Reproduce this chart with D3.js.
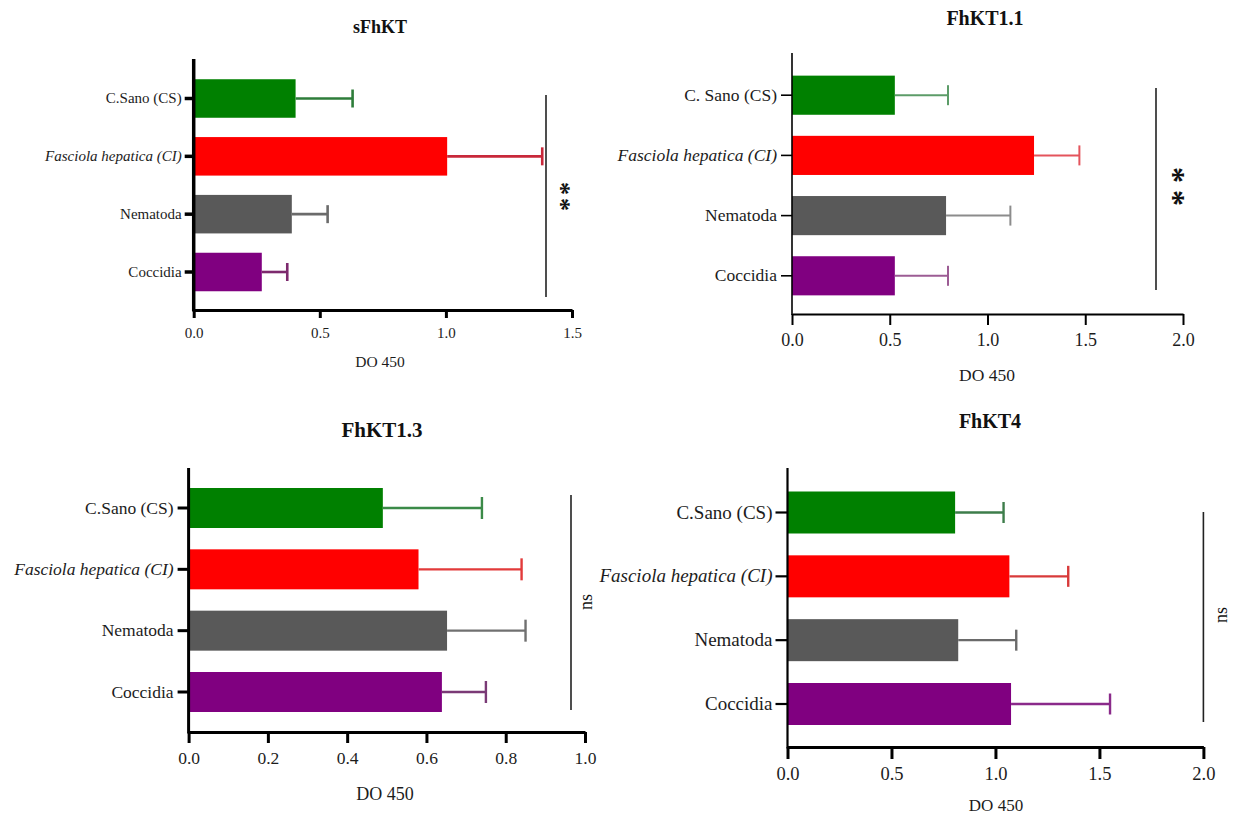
<!DOCTYPE html>
<html><head><meta charset="utf-8">
<script src="https://cdn.jsdelivr.net/npm/d3@7"></script>
<style>
html,body{margin:0;padding:0;background:#fff;}
svg{display:block;}
svg text{font-family:"Liberation Serif","Times New Roman",serif !important;}
</style></head><body>
<svg id="chart" width="1238" height="821"></svg>
<script>
// ---------- DATA ----------
const categories = ["C.Sano (CS)", "Fasciola hepatica (CI)", "Nematoda", "Coccidia"];
const categoriesFhKT11 = ["C. Sano (CS)", "Fasciola hepatica (CI)", "Nematoda", "Coccidia"];
const italicCategory = "Fasciola hepatica (CI)";
const panelTitles = ["sFhKT", "FhKT1.1", "FhKT1.3", "FhKT4"];
const axisTitle = "DO 450";
const sigLabels = ["**", "**", "ns", "ns"];

const sFhKT_means = [0.404, 1.005, 0.389, 0.270];
const sFhKT_sd    = [0.226, 0.377, 0.142, 0.101];
const FhKT11_means = [0.526, 1.238, 0.788, 0.526];
const FhKT11_sd    = [0.272, 0.232, 0.329, 0.272];
const FhKT13_means = [0.490, 0.580, 0.652, 0.639];
const FhKT13_sd    = [0.250, 0.260, 0.198, 0.111];
const FhKT4_means = [0.806, 1.067, 0.821, 1.075];
const FhKT4_sd    = [0.233, 0.283, 0.279, 0.476];

const ticks_sFhKT  = [0, 0.5, 1.0, 1.5];
const ticks_FhKT11 = [0, 0.5, 1.0, 1.5, 2.0];
const ticks_FhKT13 = [0, 0.2, 0.4, 0.6, 0.8, 1.0];
const ticks_FhKT4  = [0, 0.5, 1.0, 1.5, 2.0];

// ---------- STYLE / LAYOUT ----------
const barColors = ["#008000", "#ff0000", "#595959", "#800080"];
const serif = '"Liberation Serif","Times New Roman",serif';

const panels = [
  { title: panelTitles[0], cats: categories, means: sFhKT_means, sd: sFhKT_sd, ticks: ticks_sFhKT, sig: sigLabels[0],
    x0: 193.7, x1: 572, c0: 98.5, c3: 272, pi: 0.334, yTop: 59, axisY: 310,
    yw: 3.5, xw: 3, ytick: 9, ypad: 3, xtick: 8, xpad: 9, catFs: 15, tickFs: 15,
    titleX: 380, titleY: 33, titleFs: 18, labX: 380, labY: 367, labFs: 15.5,
    errColors: ["#2e7d3a", "#c8283a", "#6b6b6b", "#7d2a6e"], errW: 2.6, capH: 18,
    sigX: 546, sigY0: 95, sigY1: 297, sigTX: 563, sigTY: 195, sigFs: 26, sigLs: 3, sigBold: true },
  { title: panelTitles[1], cats: categoriesFhKT11, means: FhKT11_means, sd: FhKT11_sd, ticks: ticks_FhKT11, sig: sigLabels[1],
    x0: 792, x1: 1183, c0: 95.2, c3: 275.8, pi: 0.35, yTop: 53, axisY: 314,
    yw: 1.6, xw: 2, ytick: 11, ypad: 4, xtick: 11, xpad: 8, catFs: 17.5, tickFs: 18,
    titleX: 985, titleY: 25, titleFs: 20, labX: 987, labY: 381, labFs: 17.5,
    errColors: ["#5c9c68", "#e4545c", "#8c8c8c", "#9c5c94"], errW: 2, capH: 20,
    sigX: 1156, sigY0: 88, sigY1: 290, sigTX: 1176, sigTY: 183, sigFs: 32, sigLs: 7, sigBold: true },
  { title: panelTitles[2], cats: categories, means: FhKT13_means, sd: FhKT13_sd, ticks: ticks_FhKT13, sig: sigLabels[2],
    x0: 188.6, x1: 585, c0: 508, c3: 692, pi: 0.348, yTop: 468, axisY: 732,
    yw: 3, xw: 3, ytick: 11, ypad: 4, xtick: 11, xpad: 9, catFs: 17.5, tickFs: 17.5,
    titleX: 382, titleY: 437, titleFs: 21, labX: 385, labY: 800, labFs: 18,
    errColors: ["#3b8a48", "#e23a3a", "#707070", "#7a3a76"], errW: 2.4, capH: 22,
    sigX: 571, sigY0: 495, sigY1: 710, sigTX: 588, sigTY: 602, sigFs: 18, sigLs: 0, sigBold: false },
  { title: panelTitles[3], cats: categories, means: FhKT4_means, sd: FhKT4_sd, ticks: ticks_FhKT4, sig: sigLabels[3],
    x0: 787.5, x1: 1203.4, c0: 512.5, c3: 704, pi: 0.342, yTop: 468, axisY: 747,
    yw: 2.2, xw: 3, ytick: 12, ypad: 3, xtick: 12, xpad: 8, catFs: 19, tickFs: 18.5,
    titleX: 990, titleY: 428, titleFs: 20, labX: 996, labY: 811, labFs: 17,
    errColors: ["#3d7d4a", "#d83a3a", "#6a6a6a", "#8a2a8a"], errW: 2.4, capH: 21,
    sigX: 1203.4, sigY0: 512, sigY1: 722, sigTX: 1223, sigTY: 615, sigFs: 18, sigLs: 0, sigBold: false }
];

const svg = d3.select("#chart");

function drawPanel(p) {
  const g = svg.append("g");
  const n = p.cats.length;
  const step = (p.c3 - p.c0) / (n - 1);
  const x = d3.scaleLinear().domain([p.ticks[0], p.ticks[p.ticks.length - 1]]).range([p.x0, p.x1]);
  const y = d3.scaleBand().domain(p.cats)
    .range([p.c0 - step / 2, p.c3 + step / 2])
    .paddingInner(p.pi).paddingOuter(p.pi / 2);
  const bw = y.bandwidth();
  const rows = p.cats.map((c, i) => ({ cat: c, mean: p.means[i], sd: p.sd[i], i }));

  // bars
  g.selectAll("rect.bar").data(rows).join("rect")
    .attr("class", "bar")
    .attr("x", x(0)).attr("y", d => y(d.cat))
    .attr("width", d => x(d.mean) - x(0)).attr("height", bw)
    .attr("fill", d => barColors[d.i]);

  // error bars
  g.selectAll("line.err").data(rows).join("line")
    .attr("class", "err")
    .attr("x1", d => x(d.mean)).attr("x2", d => x(d.mean + d.sd))
    .attr("y1", d => y(d.cat) + bw / 2).attr("y2", d => y(d.cat) + bw / 2)
    .attr("stroke", d => p.errColors[d.i]).attr("stroke-width", p.errW);
  g.selectAll("line.cap").data(rows).join("line")
    .attr("class", "cap")
    .attr("x1", d => x(d.mean + d.sd)).attr("x2", d => x(d.mean + d.sd))
    .attr("y1", d => y(d.cat) + bw / 2 - p.capH / 2).attr("y2", d => y(d.cat) + bw / 2 + p.capH / 2)
    .attr("stroke", d => p.errColors[d.i]).attr("stroke-width", p.errW);

  // y axis
  const ya = g.append("g").attr("transform", `translate(${p.x0},0)`)
    .call(d3.axisLeft(y).tickSize(p.ytick).tickPadding(p.ypad).tickSizeOuter(0));
  ya.attr("font-family", serif);
  ya.select(".domain").remove();
  ya.selectAll(".tick line").attr("stroke", "#000").attr("stroke-width", p.yw);
  ya.selectAll(".tick text")
    .style("font-family", serif)
    .attr("font-size", p.catFs).attr("fill", "#1c1c1c")
    .attr("font-style", d => d === italicCategory ? "italic" : "normal");
  g.append("line").attr("x1", p.x0).attr("x2", p.x0).attr("y1", p.yTop).attr("y2", p.axisY + p.xw / 2)
    .attr("stroke", "#000").attr("stroke-width", p.yw);

  // x axis
  const xa = g.append("g").attr("transform", `translate(0,${p.axisY})`)
    .call(d3.axisBottom(x).tickValues(p.ticks).tickFormat(d3.format(".1f"))
      .tickSize(p.xtick).tickPadding(p.xpad).tickSizeOuter(0));
  xa.attr("font-family", serif);
  xa.select(".domain").attr("stroke", "#000").attr("stroke-width", p.xw);
  xa.selectAll(".tick line").attr("stroke", "#000").attr("stroke-width", p.xw);
  xa.selectAll(".tick text")
    .style("font-family", serif)
    .attr("font-size", p.tickFs).attr("fill", "#1c1c1c");

  // title and axis label
  g.append("text").attr("x", p.titleX).attr("y", p.titleY).attr("text-anchor", "middle")
    .style("font-family", serif)
    .attr("font-size", p.titleFs).attr("font-weight", "bold").attr("fill", "#111").text(p.title);
  g.append("text").attr("x", p.labX).attr("y", p.labY).attr("text-anchor", "middle")
    .style("font-family", serif)
    .attr("font-size", p.labFs).attr("fill", "#1c1c1c").text(axisTitle);

  // significance
  g.append("line").attr("x1", p.sigX).attr("x2", p.sigX).attr("y1", p.sigY0).attr("y2", p.sigY1)
    .attr("stroke", "#222").attr("stroke-width", 1.6);
  const isStar = p.sig.indexOf("*") >= 0;
  const off = isStar ? 0.52 * p.sigFs : 0.24 * p.sigFs;
  g.append("text")
    .attr("transform", `translate(${p.sigTX + off},${p.sigTY}) rotate(-90)`)
    .attr("text-anchor", "middle")
    .style("font-family", serif)
    .attr("font-size", p.sigFs)
    .attr("font-weight", p.sigBold ? "bold" : "normal")
    .attr("letter-spacing", p.sigLs)
    .attr("fill", "#111")
    .text(p.sig);
}

panels.forEach(drawPanel);
</script>
</body></html>
